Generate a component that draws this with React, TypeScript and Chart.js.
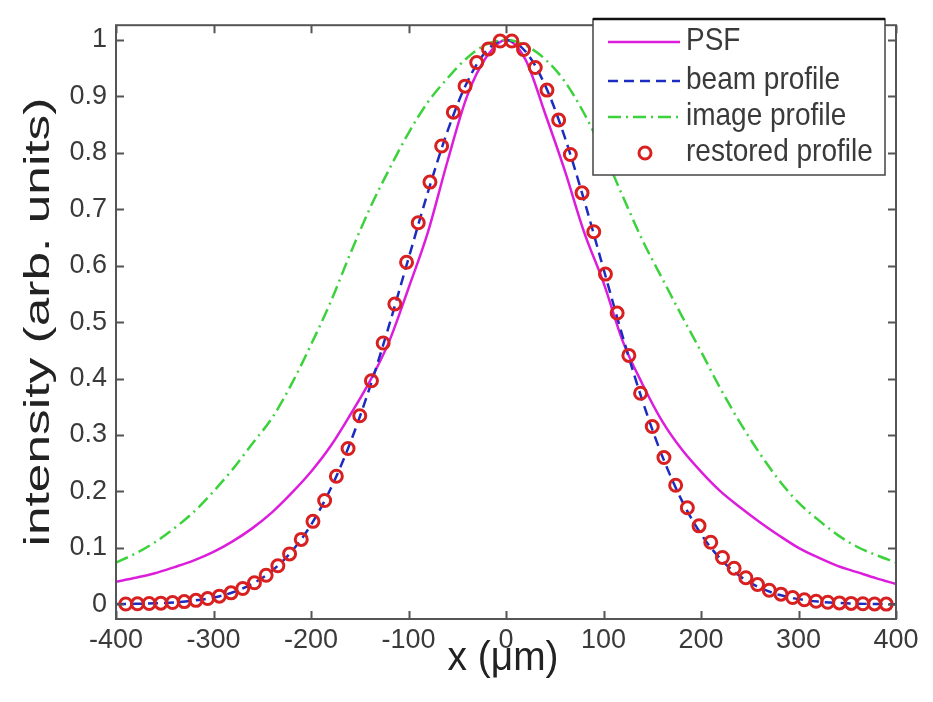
import React, { useEffect, useRef } from "react";
import { Chart, registerables } from "chart.js";

Chart.register(...registerables);

// ---------- data ----------
const profileX = [
  -400, -380, -360, -340, -320, -300, -280, -260, -240, -220, -200, -180, -160, -140, -120, -100, -80, -60, -40, -20,
  0, 20, 40, 60, 80, 100, 120, 140, 160, 180, 200, 220, 240, 260, 280, 300, 320, 340, 360, 380, 400,
];

const psfValues = [
  0.04, 0.047, 0.055, 0.066, 0.078, 0.093, 0.112, 0.135, 0.163, 0.197, 0.235, 0.28, 0.335, 0.394, 0.465, 0.56, 0.66,
  0.785, 0.9, 0.97, 1.0, 0.965, 0.87, 0.77, 0.66, 0.57, 0.465, 0.39, 0.325, 0.275, 0.235, 0.2, 0.172, 0.146, 0.122,
  0.1, 0.083, 0.068, 0.057, 0.046, 0.036,
];

const beamValues = [
  0.0004, 0.0008, 0.0017, 0.0035, 0.0066, 0.0121, 0.0214, 0.0364, 0.0594, 0.0933, 0.1408, 0.2043, 0.2851, 0.3826,
  0.4937, 0.6126, 0.7308, 0.8382, 0.9246, 0.9806, 1.0, 0.9794, 0.92, 0.829, 0.7167, 0.5942, 0.4725, 0.3604, 0.2637,
  0.1851, 0.1246, 0.0805, 0.0498, 0.0296, 0.0169, 0.0092, 0.0048, 0.0024, 0.0012, 0.0005, 0.0002,
];

const imageValues = [
  0.074, 0.09, 0.11, 0.135, 0.164, 0.2, 0.24, 0.285, 0.33, 0.39, 0.46, 0.535, 0.62, 0.7, 0.77, 0.835, 0.89, 0.932,
  0.968, 0.992, 1.0, 0.99, 0.966, 0.927, 0.87, 0.8, 0.722, 0.645, 0.578, 0.512, 0.448, 0.382, 0.322, 0.268, 0.22, 0.18,
  0.15, 0.123, 0.102, 0.087, 0.074,
];

const restoredX = [
  -390, -378, -366, -354, -342, -330, -318, -306, -294, -282, -270, -258, -246, -234, -222, -210, -198, -186, -174,
  -162, -150, -138, -126, -114, -102, -90, -78, -66, -54, -42, -30, -18, -6, 6, 18, 30, 42, 54, 66, 78, 90, 102, 114,
  126, 138, 150, 162, 174, 186, 198, 210, 222, 234, 246, 258, 270, 282, 294, 306, 318, 330, 342, 354, 366, 378, 390,
];

const restoredValues = [
  0.0006, 0.0009, 0.0014, 0.0021, 0.0032, 0.0048, 0.007, 0.0102, 0.0145, 0.0203, 0.0281, 0.0383, 0.0515, 0.0683,
  0.0893, 0.115, 0.147, 0.184, 0.227, 0.276, 0.334, 0.396, 0.463, 0.532, 0.606, 0.676, 0.748, 0.812, 0.872, 0.918,
  0.96, 0.984, 0.998, 0.998, 0.983, 0.951, 0.911, 0.858, 0.797, 0.729, 0.66, 0.585, 0.516, 0.441, 0.374, 0.315, 0.26,
  0.211, 0.171, 0.139, 0.11, 0.083, 0.064, 0.047, 0.035, 0.025, 0.018, 0.012, 0.008, 0.0055, 0.0037, 0.0025, 0.0016,
  0.001, 0.0007, 0.0004,
];

const xTicks = [-400, -300, -200, -100, 0, 100, 200, 300, 400];
const yTicks = [0, 0.1, 0.2, 0.3, 0.4, 0.5, 0.6, 0.7, 0.8, 0.9, 1];
const seriesLabels = ["PSF", "beam profile", "image profile", "restored profile"];
const xTitle = "x (\u03bcm)";
const yTitle = "intensity (arb. units)";

// ---------- styles ----------
const FONT = "'Liberation Sans', Arial, sans-serif";
const MAGENTA = "#dc1edc";
const BLUE = "#1c2cc0";
const GREEN = "#3cd23c";
const RED = "#d82020";
const TEXT = "#3a3a3a";
const AXIS = "#555555";
const BEAM_DASH = [10, 6];
const IMAGE_DASH = [13, 5, 2, 5];

const decorPlugin = {
  id: "decor",
  afterDraw(chart: any) {
    const { ctx, chartArea } = chart;
    const { left, right, top, bottom } = chartArea;
    const xs = chart.scales.x;
    const ys = chart.scales.y;
    ctx.save();
    // frame
    ctx.strokeStyle = AXIS;
    ctx.lineWidth = 2;
    ctx.setLineDash([]);
    ctx.strokeRect(left, top, right - left, bottom - top);
    // inward ticks
    const tl = 8;
    ctx.beginPath();
    xTicks.forEach((v) => {
      const px = Math.round(xs.getPixelForValue(v)) + 0.5;
      ctx.moveTo(px, bottom);
      ctx.lineTo(px, bottom - tl);
      ctx.moveTo(px, top);
      ctx.lineTo(px, top + tl);
    });
    yTicks.forEach((v) => {
      const py = Math.round(ys.getPixelForValue(v)) + 0.5;
      ctx.moveTo(left, py);
      ctx.lineTo(left + tl, py);
      ctx.moveTo(right, py);
      ctx.lineTo(right - tl, py);
    });
    ctx.stroke();

    // axis titles
    ctx.fillStyle = "#222";
    ctx.textAlign = "center";
    ctx.textBaseline = "middle";
    ctx.save();
    ctx.translate(503, 659);
    ctx.scale(1.08, 1.15);
    ctx.font = `36px ${FONT}`;
    ctx.fillText(xTitle, 0, 0);
    ctx.restore();

    ctx.save();
    ctx.translate(39, 322);
    ctx.rotate(-Math.PI / 2);
    ctx.scale(1.47, 1);
    ctx.font = `35px ${FONT}`;
    ctx.fillText(yTitle, 0, 0);
    ctx.restore();

    // legend
    const lx = 593, ly = 19, lw = 292, lh = 156;
    ctx.fillStyle = "#ffffff";
    ctx.fillRect(lx, ly, lw, lh);
    ctx.strokeStyle = "#444";
    ctx.lineWidth = 1.5;
    ctx.strokeRect(lx, ly, lw, lh);
    ctx.strokeStyle = "#111";
    ctx.lineWidth = 2.5;
    ctx.beginPath();
    ctx.moveTo(lx, ly);
    ctx.lineTo(lx + lw, ly);
    ctx.stroke();

    const rows = [42, 81, 117, 153];
    const sx0 = 608, sx1 = 680;
    ctx.lineWidth = 2.5;
    ctx.strokeStyle = MAGENTA;
    ctx.setLineDash([]);
    ctx.beginPath();
    ctx.moveTo(sx0, rows[0]);
    ctx.lineTo(sx1, rows[0]);
    ctx.stroke();
    ctx.strokeStyle = BLUE;
    ctx.setLineDash(BEAM_DASH);
    ctx.beginPath();
    ctx.moveTo(sx0, rows[1]);
    ctx.lineTo(sx1, rows[1]);
    ctx.stroke();
    ctx.strokeStyle = GREEN;
    ctx.setLineDash(IMAGE_DASH);
    ctx.beginPath();
    ctx.moveTo(sx0, rows[2]);
    ctx.lineTo(sx1, rows[2]);
    ctx.stroke();
    ctx.setLineDash([]);
    ctx.strokeStyle = RED;
    ctx.lineWidth = 3;
    ctx.beginPath();
    ctx.arc(645, rows[3], 6, 0, Math.PI * 2);
    ctx.stroke();

    ctx.fillStyle = TEXT;
    ctx.textAlign = "left";
    ctx.textBaseline = "middle";
    seriesLabels.forEach((t, i) => {
      ctx.save();
      ctx.translate(686, rows[i]);
      ctx.scale(1, 1.1);
      ctx.font = `28px ${FONT}`;
      ctx.fillText(t, 0, 0);
      ctx.restore();
    });
    ctx.restore();
  },
};

function pts(xs: number[], ys: number[]) {
  return xs.map((x, i) => ({ x, y: ys[i] }));
}

export default function App() {
  const ref = useRef<HTMLCanvasElement | null>(null);

  useEffect(() => {
    if (!ref.current) return;
    const chart = new Chart(ref.current, {
      type: "line",
      data: {
        datasets: [
          {
            label: seriesLabels[3],
            data: pts(restoredX, restoredValues),
            showLine: false,
            pointRadius: 6,
            pointBorderWidth: 3,
            pointBorderColor: RED,
            pointBackgroundColor: "rgba(0,0,0,0)",
            borderColor: RED,
            order: 0,
          },
          {
            label: seriesLabels[2],
            data: pts(profileX, imageValues),
            borderColor: GREEN,
            borderWidth: 2.5,
            borderDash: IMAGE_DASH,
            pointRadius: 0,
            cubicInterpolationMode: "monotone",
            fill: false,
            order: 1,
          },
          {
            label: seriesLabels[1],
            data: pts(profileX, beamValues),
            borderColor: BLUE,
            borderWidth: 2.5,
            borderDash: BEAM_DASH,
            pointRadius: 0,
            cubicInterpolationMode: "monotone",
            fill: false,
            order: 2,
          },
          {
            label: seriesLabels[0],
            data: pts(profileX, psfValues),
            borderColor: MAGENTA,
            borderWidth: 2.5,
            pointRadius: 0,
            cubicInterpolationMode: "monotone",
            fill: false,
            order: 3,
          },
        ],
      } as any,
      options: {
        responsive: false,
        animation: false,
        devicePixelRatio: 1,
        layout: { padding: { left: 0, right: 37, top: 10, bottom: 0 } },
        plugins: {
          legend: { display: false },
          tooltip: { enabled: false },
        },
        scales: {
          x: {
            type: "linear",
            min: -400,
            max: 400,
            afterBuildTicks: (s: any) => {
              s.ticks = xTicks.map((v) => ({ value: v }));
            },
            afterFit: (s: any) => {
              s.height = 83;
            },
            grid: { display: false, drawTicks: false },
            border: { display: false },
            ticks: {
              autoSkip: false,
              maxRotation: 0,
              padding: 5,
              color: TEXT,
              font: { family: FONT, size: 27 },
              callback: (v: any) => String(v),
            },
          },
          y: {
            type: "linear",
            min: -0.026,
            max: 1.026,
            afterBuildTicks: (s: any) => {
              s.ticks = yTicks.map((v) => ({ value: v }));
            },
            afterFit: (s: any) => {
              s.width = 116;
            },
            grid: { display: false, drawTicks: false },
            border: { display: false },
            ticks: {
              autoSkip: false,
              padding: 9,
              color: TEXT,
              font: { family: FONT, size: 27 },
              callback: (v: any) => String(v),
            },
          },
        },
      } as any,
      plugins: [decorPlugin],
    });
    return () => chart.destroy();
  }, []);

  return (
    <div style={{ position: "absolute", left: 0, top: 0, width: 933, height: 702, background: "#fff" }}>
      <canvas ref={ref} width={933} height={702} style={{ display: "block", width: 933, height: 702 }} />
    </div>
  );
}
